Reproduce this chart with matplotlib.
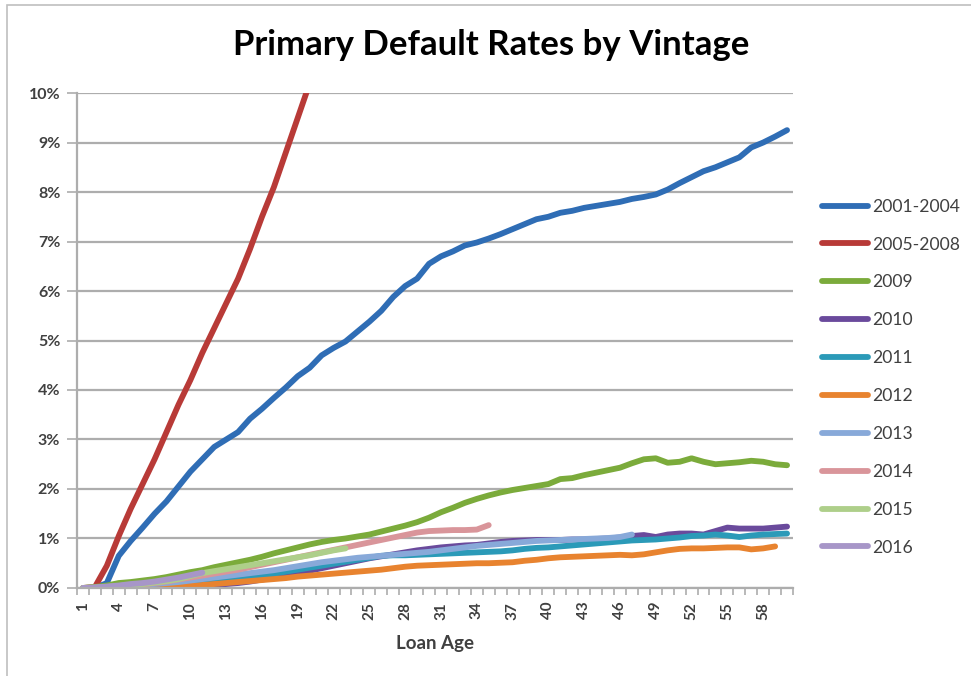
#!/usr/bin/env python
"""
Primary Default Rates by Vintage — cumulative default rate by loan age, one line per vintage.
"""
import matplotlib
matplotlib.use("Agg")
import matplotlib.pyplot as plt
from matplotlib.ticker import FixedLocator, PercentFormatter, NullFormatter
from matplotlib.patches import Rectangle

plt.rcParams['font.family'] = ['Lato', 'DejaVu Sans']

# loan age (months) 1..60
loan_age = list(range(1, 61))
tick_labels = list(range(1, 61, 3))

# cumulative default rate, in percent
v2001_2004 = [0.0, 0.0, 0.1, 0.65, 0.95, 1.22, 1.5, 1.75, 2.05, 2.35,
              2.6, 2.85, 3.0, 3.15, 3.42, 3.62, 3.84, 4.05, 4.28, 4.45,
              4.7, 4.85, 4.98, 5.18, 5.38, 5.6, 5.88, 6.1, 6.25, 6.55,
              6.7, 6.8, 6.92, 6.98, 7.06, 7.15, 7.25, 7.35, 7.45, 7.5,
              7.58, 7.62, 7.68, 7.72, 7.76, 7.8, 7.86, 7.9, 7.95, 8.05,
              8.18, 8.3, 8.42, 8.5, 8.6, 8.7, 8.9, 9.0, 9.12, 9.25]
v2005_2008 = [0.0, 0.02, 0.45, 1.05, 1.6, 2.1, 2.6, 3.15, 3.7, 4.2,
              4.75, 5.25, 5.75, 6.25, 6.85, 7.5, 8.1, 8.8, 9.5, 10.2,
              10.9]
v2009 = [0.0, 0.02, 0.05, 0.1, 0.12, 0.15, 0.18, 0.22, 0.27, 0.32,
         0.36, 0.42, 0.47, 0.52, 0.57, 0.63, 0.7, 0.76, 0.82, 0.88,
         0.93, 0.97, 1.0, 1.04, 1.08, 1.14, 1.2, 1.26, 1.33, 1.42,
         1.53, 1.62, 1.72, 1.8, 1.87, 1.93, 1.98, 2.02, 2.06, 2.1,
         2.2, 2.22, 2.28, 2.33, 2.38, 2.43, 2.52, 2.6, 2.62, 2.53,
         2.55, 2.62, 2.55, 2.5, 2.52, 2.54, 2.57, 2.55, 2.5, 2.48]
v2010 = [0.0, 0.0, 0.0, 0.0, 0.0, 0.0, 0.0, 0.0, 0.01, 0.02,
         0.04, 0.06, 0.08, 0.1, 0.13, 0.17, 0.21, 0.25, 0.3, 0.35,
         0.4, 0.45, 0.5, 0.55, 0.6, 0.64, 0.68, 0.72, 0.76, 0.79,
         0.82, 0.84, 0.86, 0.87, 0.9, 0.93, 0.95, 0.96, 0.97, 0.97,
         0.97, 0.98, 0.98, 0.99, 1.0, 1.02, 1.05, 1.07, 1.03, 1.08,
         1.1, 1.1, 1.08, 1.15, 1.22, 1.2, 1.2, 1.2, 1.22, 1.24]
v2011 = [0.0, 0.0, 0.0, 0.0, 0.0, 0.0, 0.01, 0.02, 0.04, 0.06,
         0.09, 0.12, 0.15, 0.18, 0.21, 0.25, 0.29, 0.33, 0.37, 0.41,
         0.45, 0.49, 0.53, 0.57, 0.61, 0.65, 0.66, 0.66, 0.67, 0.68,
         0.69, 0.7, 0.71, 0.72, 0.73, 0.74, 0.76, 0.79, 0.81, 0.82,
         0.84, 0.86, 0.88, 0.9, 0.92, 0.94, 0.96, 0.97, 0.98, 1.0,
         1.02, 1.05, 1.06, 1.08, 1.06, 1.03, 1.06, 1.08, 1.09, 1.1]
v2012 = [0.0, 0.0, 0.0, 0.0, 0.0, 0.0, 0.01, 0.02, 0.03, 0.04,
         0.06, 0.08, 0.1, 0.12, 0.14, 0.16, 0.18, 0.2, 0.23, 0.25,
         0.27, 0.29, 0.31, 0.33, 0.35, 0.37, 0.4, 0.43, 0.45, 0.46,
         0.47, 0.48, 0.49, 0.5, 0.5, 0.51, 0.52, 0.55, 0.57, 0.6,
         0.62, 0.63, 0.64, 0.65, 0.66, 0.67, 0.66, 0.68, 0.72, 0.76,
         0.79, 0.8, 0.8, 0.81, 0.82, 0.82, 0.78, 0.8, 0.84]
v2013 = [0.0, 0.0, 0.01, 0.02, 0.04, 0.06, 0.08, 0.1, 0.12, 0.15,
         0.18, 0.21, 0.24, 0.27, 0.3, 0.33, 0.36, 0.4, 0.44, 0.48,
         0.52, 0.55, 0.58, 0.61, 0.63, 0.65, 0.67, 0.69, 0.71, 0.73,
         0.76, 0.79, 0.82, 0.85, 0.87, 0.89, 0.91, 0.93, 0.95, 0.96,
         0.97, 0.98, 0.99, 1.0, 1.01, 1.03, 1.08]
v2014 = [0.0, 0.0, 0.01, 0.03, 0.05, 0.07, 0.1, 0.13, 0.17, 0.21,
         0.25, 0.29, 0.33, 0.37, 0.42, 0.47, 0.52, 0.57, 0.62, 0.67,
         0.72, 0.77, 0.82, 0.87, 0.92, 0.97, 1.02, 1.07, 1.12, 1.15,
         1.16, 1.17, 1.17, 1.18, 1.27]
v2015 = [0.0, 0.01, 0.02, 0.04, 0.06, 0.08, 0.11, 0.14, 0.18, 0.24,
         0.3, 0.34, 0.38, 0.42, 0.46, 0.5, 0.54, 0.58, 0.62, 0.66,
         0.71, 0.76, 0.8]
v2016 = [0.0, 0.01, 0.03, 0.05, 0.08, 0.1, 0.13, 0.17, 0.21, 0.26,
         0.31]

vintages = ["2001-2004", "2005-2008", "2009", "2010", "2011",
            "2012", "2013", "2014", "2015", "2016"]
series = [v2001_2004, v2005_2008, v2009, v2010, v2011,
          v2012, v2013, v2014, v2015, v2016]
colors = ["#2F6DB5", "#B83A37", "#7BAB3B", "#6A4A9C", "#2B9AB8",
          "#E8832F", "#88A9D9", "#D9959A", "#AECF8A", "#A796C8"]

GRID = "#ADADAD"
TXT = "#404040"
LW = 4.2

fig = plt.figure(figsize=(9.71, 6.76), dpi=100)
ax = fig.add_axes([0.0793, 0.1302, 0.7374, 0.7322])

# chart area border (left and top edges visible)
fig.patches.append(Rectangle((7 / 971, -0.05), 1.2, 1 - 5 / 676 + 0.05,
                             transform=fig.transFigure, fill=False,
                             edgecolor="#BFBFBF", linewidth=1.2))

for name, vals, c in zip(vintages, series, colors):
    ax.plot(loan_age[:len(vals)], [v / 100 for v in vals], color=c,
            linewidth=LW, solid_capstyle="round", solid_joinstyle="round",
            label=name)

ax.set_xlim(0.5, 60.5)
ax.set_ylim(0, 0.10)
ax.set_yticks([i / 100 for i in range(11)])
ax.yaxis.set_major_formatter(PercentFormatter(1.0, decimals=0))
ax.grid(axis="y", color=GRID, linewidth=1.6)
ax.set_axisbelow(True)

ax.xaxis.set_major_locator(FixedLocator(tick_labels))
ax.set_xticklabels([str(t) for t in tick_labels], rotation=90)
ax.xaxis.set_minor_locator(FixedLocator([i + 0.5 for i in range(0, 61)]))
ax.xaxis.set_minor_formatter(NullFormatter())
ax.tick_params(axis="x", which="major", length=0, pad=10,
               labelsize=11, labelcolor=TXT)
ax.tick_params(axis="x", which="minor", length=5, width=1.2, color=GRID)
ax.tick_params(axis="y", length=7, width=1.2, color=GRID, pad=5,
               labelsize=11.5, labelcolor=TXT)
for lab in ax.get_xticklabels() + ax.get_yticklabels():
    lab.set_fontweight("bold")

for s in ["top", "right"]:
    ax.spines[s].set_visible(False)
for s in ["left", "bottom"]:
    ax.spines[s].set_color(GRID)
    ax.spines[s].set_linewidth(1.6)

ax.set_xlabel("Loan Age", fontsize=13.5, fontweight="bold", color=TXT,
              labelpad=11)
fig.text(0.506, 0.933, "Primary Default Rates by Vintage", ha="center",
         va="center", fontsize=25, fontweight="bold", color="#000000")

leg = ax.legend(loc="upper left", bbox_to_anchor=(0.8466, 0.706),
                bbox_transform=fig.transFigure, frameon=False,
                fontsize=12.6, handlelength=2.65, handletextpad=0.2,
                labelspacing=1.25, borderaxespad=0, borderpad=0)
for t in leg.get_texts():
    t.set_color(TXT)
for h in leg.get_lines():
    h.set_linewidth(LW)

fig.savefig("out.png", dpi=100)
